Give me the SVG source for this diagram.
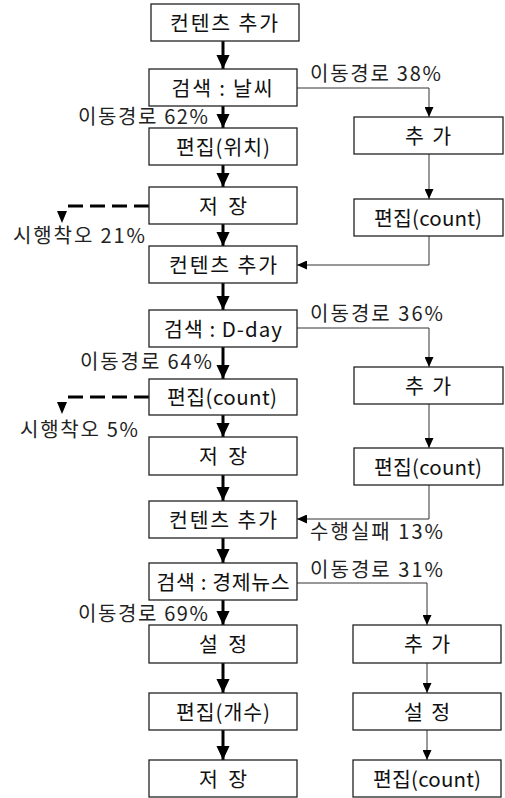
<svg xmlns="http://www.w3.org/2000/svg" width="505" height="798" viewBox="0 0 505 798">
  <style>
    .box rect { fill: #fff; stroke: #222; stroke-width: 1.3; }
    .box text { font-family: "Noto Sans CJK KR", "Noto Sans", sans-serif; font-size: 20.5px; fill: #111; text-anchor: middle; }
    .lbl { font-family: "Noto Sans CJK KR", "Noto Sans", sans-serif; font-size: 20px; fill: #222; }
    .thick { stroke: #000; stroke-width: 3; fill: none; marker-end: url(#bigHead); }
    .thin { stroke: #333; stroke-width: 1; fill: none; marker-end: url(#smallHead); }
    .dash { stroke: #000; stroke-width: 3; fill: none; stroke-dasharray: 15 7; }
  </style>
  <defs>
    <marker id="bigHead" markerUnits="userSpaceOnUse" markerWidth="14" markerHeight="16" refX="15" refY="7" orient="auto" viewBox="0 0 15 14">
      <path d="M0,0 L15,7 L0,14 Z" fill="#000"/>
    </marker>
    <marker id="smallHead" markerUnits="userSpaceOnUse" markerWidth="10" markerHeight="9" refX="10" refY="4.5" orient="auto" viewBox="0 0 10 9">
      <path d="M0,0 L10,4.5 L0,9 Z" fill="#000"/>
    </marker>
  </defs>

  <rect width="505" height="798" fill="#fff"/>

  <!-- connectors -->
  <g id="connectors">
    <!-- main flow -->
    <path class="thick" d="M223,41 V69"/>
    <path class="thick" d="M223,106 V128"/>
    <path class="thick" d="M223,165 V187"/>
    <path class="thick" d="M223,224 V246"/>
    <path class="thick" d="M223,283 V310"/>
    <path class="thick" d="M223,347 V379"/>
    <path class="thick" d="M223,415 V437"/>
    <path class="thick" d="M223,475 V501"/>
    <path class="thick" d="M223,538 V563"/>
    <path class="thick" d="M223,600 V625"/>
    <path class="thick" d="M223,663 V693"/>
    <path class="thick" d="M223,730 V760"/>
    <!-- detours -->
    <path class="thin" d="M297,88 H429 V117"/>
    <path class="thin" d="M429,154 V199"/>
    <path class="thin" d="M429,236 V265 H297"/>
    <path class="thin" d="M297,328 H429 V367"/>
    <path class="thin" d="M429,404 V448"/>
    <path class="thin" d="M429,485 V519 H297"/>
    <path class="thin" d="M297,583 H427 V625"/>
    <path class="thin" d="M427,663 V693"/>
    <path class="thin" d="M427,730 V760"/>
    <!-- trial and error exits -->
    <path class="dash" d="M149,206 H67"/>
    <path d="M57,211 L67,211 L62,223 Z" fill="#000"/>
    <path class="dash" d="M149,397 H67"/>
    <path d="M57,402 L67,402 L62,414 Z" fill="#000"/>
  </g>

  <!-- left column -->
  <g id="n1" class="box"><rect x="151" y="4" width="148" height="37"/><text x="224" y="30.5" textLength="108">컨텐츠 추가</text></g>
  <g id="n2" class="box"><rect x="149" y="69" width="148" height="37"/><text x="222" y="95.5" textLength="101">검색 : 날씨</text></g>
  <g id="n3" class="box"><rect x="149" y="128" width="148" height="37"/><text x="223" y="154.5" textLength="94">편집(위치)</text></g>
  <g id="n4" class="box"><rect x="149" y="187" width="148" height="37"/><text x="223" y="213.5" textLength="48">저 장</text></g>
  <g id="n5" class="box"><rect x="149" y="246" width="148" height="37"/><text x="223" y="272.5" textLength="108">컨텐츠 추가</text></g>
  <g id="n6" class="box"><rect x="149" y="310" width="148" height="37"/><text x="223" y="336.5" textLength="118">검색 : D-day</text></g>
  <g id="n7" class="box"><rect x="149" y="379" width="148" height="36"/><text x="222" y="404.5" textLength="110">편집(count)</text></g>
  <g id="n8" class="box"><rect x="149" y="437" width="148" height="38"/><text x="223" y="463.5" textLength="48">저 장</text></g>
  <g id="n9" class="box"><rect x="149" y="501" width="148" height="37"/><text x="223" y="527.5" textLength="108">컨텐츠 추가</text></g>
  <g id="n10" class="box"><rect x="149" y="563" width="148" height="37"/><text x="223" y="589.5" textLength="133">검색 : 경제뉴스</text></g>
  <g id="n11" class="box"><rect x="149" y="625" width="148" height="38"/><text x="223" y="651.5" textLength="48">설 정</text></g>
  <g id="n12" class="box"><rect x="149" y="693" width="148" height="37"/><text x="223" y="719.5" textLength="94">편집(개수)</text></g>
  <g id="n13" class="box"><rect x="149" y="760" width="148" height="37"/><text x="223" y="786.5" textLength="48">저 장</text></g>

  <!-- right column -->
  <g id="r1" class="box"><rect x="354" y="117" width="149" height="37"/><text x="428" y="143.5" textLength="46">추 가</text></g>
  <g id="r2" class="box"><rect x="354" y="199" width="149" height="37"/><text x="428" y="225.5" textLength="108">편집(count)</text></g>
  <g id="r3" class="box"><rect x="354" y="367" width="149" height="37"/><text x="428" y="393.5" textLength="46">추 가</text></g>
  <g id="r4" class="box"><rect x="354" y="448" width="149" height="37"/><text x="428" y="474.5" textLength="108">편집(count)</text></g>
  <g id="r5" class="box"><rect x="353" y="625" width="148" height="38"/><text x="427" y="651.5" textLength="46">추 가</text></g>
  <g id="r6" class="box"><rect x="353" y="693" width="148" height="37"/><text x="427" y="719.5" textLength="46">설 정</text></g>
  <g id="r7" class="box"><rect x="353" y="760" width="148" height="37"/><text x="427" y="786.5" textLength="108">편집(count)</text></g>

  <!-- edge labels -->
  <g id="labels">
    <text class="lbl" x="310" y="81" textLength="131">이동경로 38%</text>
    <text class="lbl" x="78" y="124" textLength="130">이동경로 62%</text>
    <text class="lbl" x="13" y="243" textLength="132">시행착오 21%</text>
    <text class="lbl" x="310" y="321" textLength="133">이동경로 36%</text>
    <text class="lbl" x="80" y="369" textLength="132">이동경로 64%</text>
    <text class="lbl" x="20" y="437" textLength="118">시행착오 5%</text>
    <text class="lbl" x="310" y="539" textLength="133">수행실패 13%</text>
    <text class="lbl" x="310" y="577" textLength="133">이동경로 31%</text>
    <text class="lbl" x="78" y="621" textLength="130">이동경로 69%</text>
  </g>
</svg>
